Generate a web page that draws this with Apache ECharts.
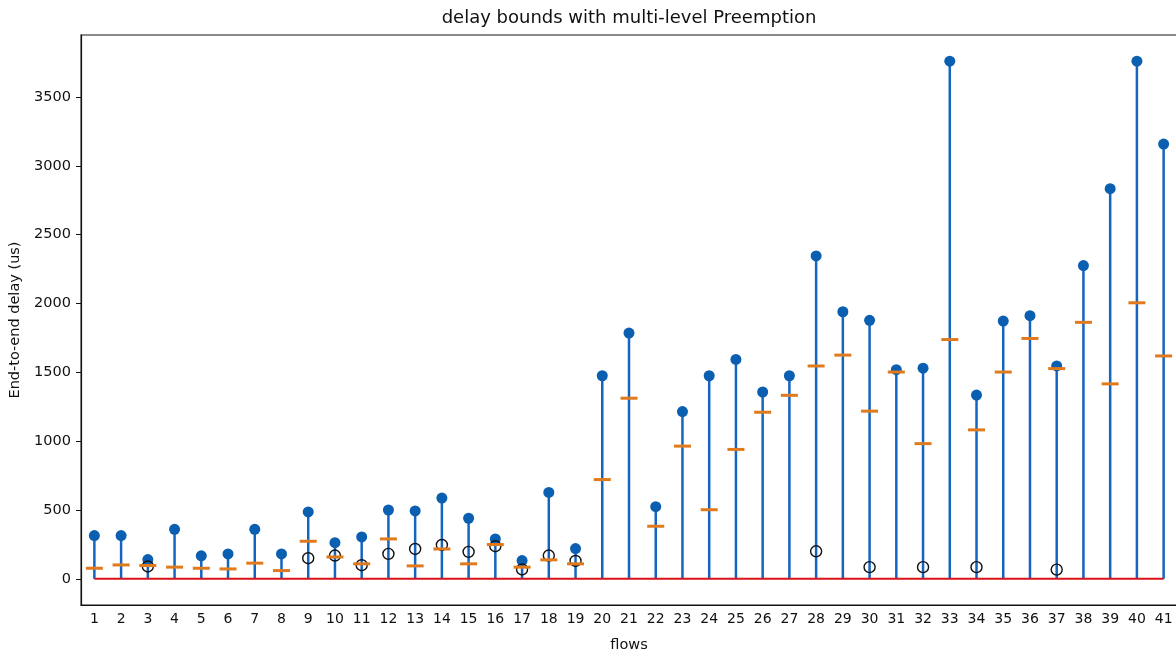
<!DOCTYPE html>
<html>
<head>
<meta charset="utf-8">
<script src="https://cdn.jsdelivr.net/npm/echarts@6/dist/echarts.min.js"></script>
<style>
html,body{margin:0;padding:0;background:#fff;}
#chart{width:1176px;height:652px;}
</style>
</head>
<body>
<div id="chart"></div>
<script>
const flows = [];
for (let i = 1; i <= 41; i++) flows.push(String(i));

const upperBound = [314, 314, 140, 360, 167, 181, 360, 181, 486, 263, 304, 500, 493, 587, 440, 290, 133, 628, 220,
  1475, 1785, 524, 1215, 1475, 1594, 1357, 1475, 2345, 1940, 1878, 1519, 1530, 3760, 1335, 1872, 1911, 1546, 2275, 2834, 3760, 3158];

const midBound = [77, 101, 97, 85, 77, 72, 114, 60, 273, 159, 109, 290, 94, 217, 109, 249, 85, 138, 109,
  721, 1312, 382, 964, 502, 940, 1210, 1333, 1546, 1625, 1218, 1502, 982, 1738, 1082, 1502, 1746, 1527, 1863, 1416, 2005, 1619];

const measured = [null, null, 90, null, null, null, null, null, 150, 169, 99, 181, 217, 246, 196, 237, 68, 169, 130,
  null, null, null, null, null, null, null, null, 200, null, 85, null, 85, null, 85, null, null, 67, null, null, null, null];

const baseline = flows.map(() => 0);

const yTicks = [0, 500, 1000, 1500, 2000, 2500, 3000, 3500];

const FONT = 'DejaVu Sans';
const chart = echarts.init(document.getElementById('chart'), null, {renderer: 'canvas'});
chart.setOption({
  animation: false,
  backgroundColor: '#fff',
  graphic: [{
    type: 'text', x: 629, y: 18, z: 10,
    style: {text: 'delay bounds with multi-level Preemption', font: '18px "DejaVu Sans"', fill: '#111',
      textAlign: 'center', textVerticalAlign: 'middle'}
  }],
  grid: {left: 81, right: -1, top: 35, bottom: 47, show: true, borderColor: '#666', borderWidth: 1.5,
    containLabel: false, outerBoundsMode: 'none'},
  xAxis: {
    type: 'category', data: flows, boundaryGap: true,
    name: 'flows', nameLocation: 'middle', nameGap: 33,
    nameTextStyle: {fontFamily: FONT, fontSize: 14.5, color: '#111'},
    axisLine: {onZero: false, lineStyle: {color: '#111', width: 1.2}},
    axisTick: {alignWithLabel: true, length: 5, lineStyle: {color: '#111'}},
    axisLabel: {fontFamily: FONT, fontSize: 14, color: '#111', margin: 7, interval: 0},
    splitLine: {show: false}
  },
  yAxis: {
    type: 'value', min: -190, max: 3950,
    name: 'End-to-end delay (us)', nameLocation: 'middle', nameGap: 57, nameRotate: 90,
    nameTextStyle: {fontFamily: FONT, fontSize: 14.5, color: '#111'},
    axisLine: {show: true, onZero: false, lineStyle: {color: '#111', width: 1.2}},
    axisTick: {show: true, length: 5, customValues: yTicks, lineStyle: {color: '#111'}},
    axisLabel: {fontFamily: FONT, fontSize: 14.5, color: '#111', margin: 10, customValues: yTicks,
      formatter: v => String(v)},
    splitLine: {show: false}
  },
  series: [
    {
      type: 'bar', data: upperBound, barWidth: 2.5, z: 2,
      itemStyle: {color: '#1565c0'}
    },
    {
      type: 'line', data: baseline, symbol: 'none', z: 3,
      lineStyle: {color: '#d9121b', width: 2}
    },
    {
      type: 'scatter', data: upperBound, symbol: 'circle', symbolSize: 11, z: 4,
      itemStyle: {color: '#0a5fb0', opacity: 1}
    },
    {
      type: 'scatter', data: measured, symbol: 'circle', symbolSize: 11, z: 5,
      itemStyle: {color: 'rgba(0,0,0,0)', borderColor: '#111', borderWidth: 1.4, opacity: 1}
    },
    {
      type: 'scatter', data: midBound, symbol: 'rect', symbolSize: [17, 3], z: 6,
      itemStyle: {color: '#e07a1c', opacity: 1}
    }
  ]
});
</script>
</body>
</html>
